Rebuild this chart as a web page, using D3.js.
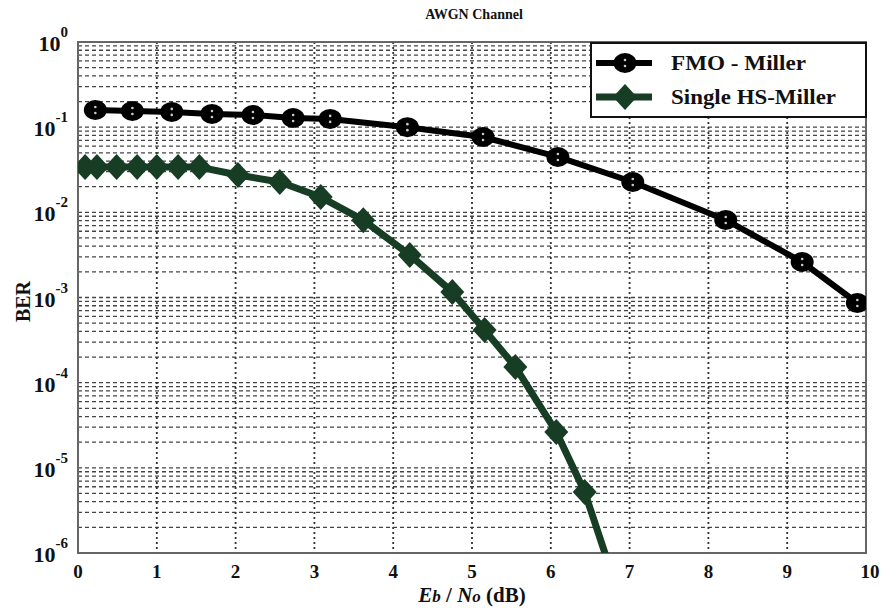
<!DOCTYPE html>
<html>
<head>
<meta charset="utf-8">
<script src="https://cdnjs.cloudflare.com/ajax/libs/d3/7.8.5/d3.min.js"></script>
<style>
  body { margin: 0; background: #fff; }
  text { font-family: "Liberation Serif", "Times New Roman", "DejaVu Serif", serif; font-weight: bold; fill: #111; }
</style>
</head>
<body>
<div id="chart"></div>
<script>
// FMO - Miller (circles)
const fmoX = [0.22, 0.69, 1.19, 1.70, 2.22, 2.73, 3.20, 4.18, 5.14, 6.09, 7.04, 8.22, 9.19, 9.89];
const fmoBer = [0.159, 0.155, 0.151, 0.143, 0.139, 0.128, 0.125, 0.100, 0.0767, 0.0447, 0.0227, 0.00813, 0.00261, 0.000862];

// Single HS-Miller (diamonds); the last point runs off the bottom of the plot
const hsX = [0.09, 0.24, 0.49, 0.75, 1.00, 1.27, 1.54, 2.03, 2.56, 3.08, 3.62, 4.21, 4.75, 5.16, 5.55, 6.07, 6.43, 6.78];
const hsBer = [0.034, 0.034, 0.034, 0.034, 0.034, 0.034, 0.034, 0.0274, 0.0227, 0.0151, 0.0081, 0.00316, 0.00116, 0.000416, 0.000153, 0.0000264, 0.0000052, 0.00000055];
const hsMarked = 17; // number of points that carry a marker

const xTicks = [0, 1, 2, 3, 4, 5, 6, 7, 8, 9, 10];
const yExponents = [0, -1, -2, -3, -4, -5, -6];
const seriesNames = ['FMO - Miller', 'Single HS-Miller'];
const seriesColors = ['#000000', '#173d24'];

const width = 882, height = 608;
const margin = {top: 42, right: 16, bottom: 55, left: 78};
const innerW = width - margin.left - margin.right;
const innerH = height - margin.top - margin.bottom;

const svg = d3.select('#chart').append('svg')
  .attr('width', width)
  .attr('height', height);

const x = d3.scaleLinear().domain([0, 10]).range([margin.left, margin.left + innerW]);
const y = d3.scaleLog().domain([1e-6, 1]).range([margin.top + innerH, margin.top]);

svg.append('clipPath').attr('id', 'plotclip')
  .append('rect')
  .attr('x', margin.left).attr('y', margin.top)
  .attr('width', innerW).attr('height', innerH);

// grid: horizontal dashed at every log tick
const minorTicks = [];
yExponents.forEach(e => {
  if (e === 0) return;
  for (let m = 1; m <= 9; m++) minorTicks.push(m * Math.pow(10, e));
});
svg.append('g').attr('class', 'hgrid')
  .selectAll('line')
  .data(minorTicks)
  .join('line')
    .attr('x1', margin.left).attr('x2', margin.left + innerW)
    .attr('y1', d => y(d)).attr('y2', d => y(d))
    .attr('stroke', '#444')
    .attr('stroke-width', 1.3)
    .attr('stroke-dasharray', '4,3');

// grid: vertical dotted at integer x
svg.append('g').attr('class', 'vgrid')
  .selectAll('line')
  .data(xTicks.slice(1, -1))
  .join('line')
    .attr('x1', d => x(d)).attr('x2', d => x(d))
    .attr('y1', margin.top).attr('y2', margin.top + innerH)
    .attr('stroke', '#333')
    .attr('stroke-width', 1.8)
    .attr('stroke-dasharray', '2,3');

// plot frame
svg.append('rect')
  .attr('x', margin.left).attr('y', margin.top)
  .attr('width', innerW).attr('height', innerH)
  .attr('fill', 'none')
  .attr('stroke', '#666')
  .attr('stroke-width', 2);

// x tick labels
svg.append('g')
  .selectAll('text')
  .data(xTicks)
  .join('text')
    .attr('x', d => x(d) + (d === 10 ? 4 : 0))
    .attr('y', 578)
    .attr('text-anchor', 'middle')
    .style('font-size', '19px')
    .text(d => d);

// y tick labels 10^e
const yl = svg.append('g')
  .selectAll('text')
  .data(yExponents)
  .join('text')
    .attr('x', 68)
    .attr('y', d => y(Math.pow(10, d)) + 9)
    .attr('text-anchor', 'end')
    .style('font-size', '22px');
yl.append('tspan').text('10');
yl.append('tspan')
  .attr('dy', -14)
  .style('font-size', '15px')
  .text(d => d === 0 ? '0' : '-' + Math.abs(d));

// axis titles
svg.append('text')
  .attr('transform', `translate(30,${margin.top + innerH / 2 + 4}) rotate(-90)`)
  .attr('text-anchor', 'middle')
  .style('font-size', '20px')
  .text('BER');

const xt = svg.append('text')
  .attr('x', x(5))
  .attr('y', 602)
  .attr('text-anchor', 'middle')
  .style('font-size', '21px');
xt.append('tspan').style('font-style', 'italic').text('E');
xt.append('tspan').style('font-style', 'italic').style('font-size', '17px').text('b');
xt.append('tspan').text(' / ');
xt.append('tspan').style('font-style', 'italic').text('N');
xt.append('tspan').style('font-style', 'italic').style('font-size', '17px').text('o');
xt.append('tspan').text(' (dB)');

svg.append('text')
  .attr('x', x(5) + 2)
  .attr('y', 19)
  .attr('text-anchor', 'middle')
  .style('font-size', '14px')
  .text('AWGN Channel');

// series
const line = d3.line().x(d => x(d[0])).y(d => y(d[1]));
const plot = svg.append('g').attr('clip-path', 'url(#plotclip)');

const fmoPts = fmoX.map((v, i) => [v, fmoBer[i]]);
const hsPts = hsX.map((v, i) => [v, hsBer[i]]);

const diamond = (cx, cy, w, h) =>
  `M${cx},${cy - h}L${cx + w},${cy}L${cx},${cy + h}L${cx - w},${cy}Z`;

function circleMarker(g, cx, cy) {
  g.append('ellipse').attr('cx', cx).attr('cy', cy).attr('rx', 11.5).attr('ry', 10)
    .attr('fill', seriesColors[0]);
  g.append('circle').attr('cx', cx).attr('cy', cy - 3).attr('r', 1.3).attr('fill', '#ccc');
  g.append('circle').attr('cx', cx).attr('cy', cy + 3).attr('r', 1.3).attr('fill', '#ccc');
}

plot.append('path')
  .datum(hsPts)
  .attr('d', line)
  .attr('fill', 'none')
  .attr('stroke', seriesColors[1])
  .attr('stroke-width', 7)
  .attr('stroke-linejoin', 'round');

plot.append('g')
  .selectAll('path')
  .data(hsPts.slice(0, hsMarked))
  .join('path')
    .attr('d', d => diamond(x(d[0]), y(d[1]), 12, 13))
    .attr('fill', seriesColors[1]);

plot.append('path')
  .datum(fmoPts)
  .attr('d', line)
  .attr('fill', 'none')
  .attr('stroke', seriesColors[0])
  .attr('stroke-width', 6)
  .attr('stroke-linejoin', 'round');

const fmoMarks = plot.append('g');
fmoPts.forEach(d => circleMarker(fmoMarks, x(d[0]), y(d[1])));

// legend
const legend = svg.append('g').attr('class', 'legend');
legend.append('rect')
  .attr('x', 591).attr('y', 43)
  .attr('width', 275).attr('height', 74)
  .attr('fill', '#fff')
  .attr('stroke', '#111')
  .attr('stroke-width', 2);

const legendWidths = [135, 165];
seriesNames.forEach((name, i) => {
  const ly = 63 + i * 34;
  legend.append('line')
    .attr('x1', 596).attr('x2', 652)
    .attr('y1', ly).attr('y2', ly)
    .attr('stroke', seriesColors[i])
    .attr('stroke-width', i === 0 ? 6 : 7);
  if (i === 0) circleMarker(legend, 625, ly);
  else legend.append('path').attr('d', diamond(625, ly, 12, 13)).attr('fill', seriesColors[1]);
  legend.append('text')
    .attr('x', 671)
    .attr('y', ly + 7)
    .attr('textLength', legendWidths[i])
    .attr('lengthAdjust', 'spacingAndGlyphs')
    .style('font-size', '20px')
    .text(name);
});
</script>
</body>
</html>
